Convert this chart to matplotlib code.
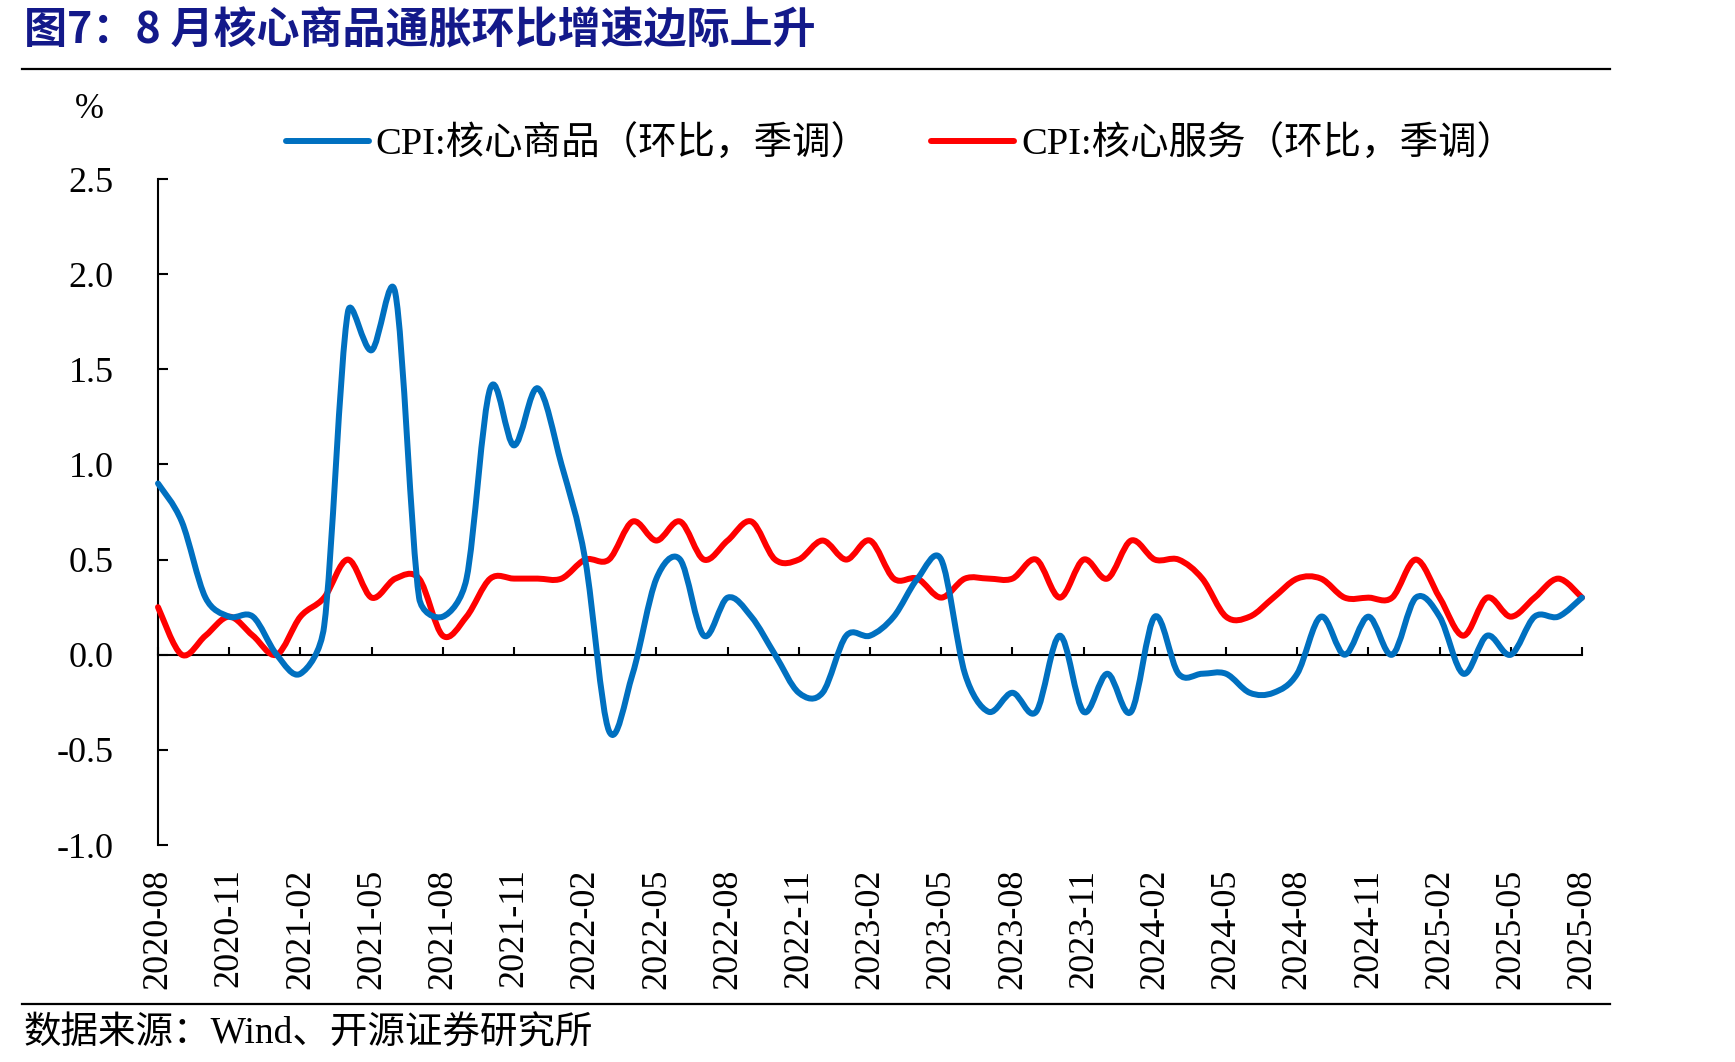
import matplotlib
matplotlib.use("Agg")
import numpy as np
import matplotlib.pyplot as plt
from matplotlib.path import Path
from matplotlib.patches import PathPatch
from matplotlib.lines import Line2D

# monthly data, 2020-08 .. 2025-08
months = [f"{2020 + (7 + k) // 12}-{(7 + k) % 12 + 1:02d}" for k in range(61)]

core_goods = [0.9, 0.7, 0.3, 0.2, 0.2, 0.0, -0.1, 0.15, 1.8, 1.6,
              1.9, 0.3, 0.2, 0.4, 1.4, 1.1, 1.4, 1.0, 0.5, -0.4,
              -0.1, 0.4, 0.5, 0.1, 0.3, 0.2, 0.0, -0.2, -0.2, 0.1,
              0.1, 0.2, 0.4, 0.5, -0.1, -0.3, -0.2, -0.3, 0.1, -0.3,
              -0.1, -0.3, 0.2, -0.1, -0.1, -0.1, -0.2, -0.2, -0.1, 0.2,
              0.0, 0.2, 0.0, 0.3, 0.2, -0.1, 0.1, 0.0, 0.2, 0.2,
              0.3]
core_services = [0.25, 0.0, 0.1, 0.2, 0.1, 0.0, 0.2, 0.3, 0.5, 0.3,
                 0.4, 0.4, 0.1, 0.2, 0.4, 0.4, 0.4, 0.4, 0.5, 0.5,
                 0.7, 0.6, 0.7, 0.5, 0.6, 0.7, 0.5, 0.5, 0.6, 0.5,
                 0.6, 0.4, 0.4, 0.3, 0.4, 0.4, 0.4, 0.5, 0.3, 0.5,
                 0.4, 0.6, 0.5, 0.5, 0.4, 0.2, 0.2, 0.3, 0.4, 0.4,
                 0.3, 0.3, 0.3, 0.5, 0.3, 0.1, 0.3, 0.2, 0.3, 0.4,
                 0.3]

labels = ["CPI:核心商品（环比，季调）", "CPI:核心服务（环比，季调）"]
colors = ["#0070C0", "#FF0000"]
tick_idx = list(range(0, 61, 3))

FONT = ["Liberation Serif", "Noto Sans CJK SC"]
plt.rcParams["font.family"] = FONT

YSCALE = 8.0  # screen aspect: pixels per 1.0 on y / pixels per month on x


def smooth_path(ys):
    # excel-like smoothed line: catmull-rom bezier, handle length capped at half the segment
    P = np.column_stack([np.arange(len(ys), dtype=float), np.array(ys) * YSCALE])
    n = len(P)
    span = [P[min(i + 1, n - 1)] - P[max(i - 1, 0)] for i in range(n)]
    verts = [P[0]]
    codes = [Path.MOVETO]
    for i in range(n - 1):
        L = np.hypot(*(P[i + 1] - P[i]))
        h = []
        for j in (i, i + 1):
            s = span[j]
            ns = np.hypot(*s)
            d = min(ns / 6, L / 2)
            h.append(s / ns * d)
        verts += [P[i] + h[0], P[i + 1] - h[1], P[i + 1]]
        codes += [Path.CURVE4] * 3
    verts = np.array(verts)
    verts[:, 1] /= YSCALE
    return Path(verts, codes)


fig = plt.figure(figsize=(17.35, 10.62), dpi=100)
ax = fig.add_axes([158 / 1735, 1 - 845 / 1062, (1582 - 158) / 1735, (845 - 179) / 1062])

for ys, c, z in [(core_services, colors[1], 3), (core_goods, colors[0], 4)]:
    ax.add_patch(PathPatch(smooth_path(ys), fill=False, edgecolor=c, lw=4.3,
                           capstyle="round", joinstyle="round", zorder=z, clip_on=False))

ax.set_xlim(0, 60)
ax.set_ylim(-1.0, 2.5)
yticks = [-1.0, -0.5, 0.0, 0.5, 1.0, 1.5, 2.0, 2.5]
ax.set_yticks(yticks)
ax.set_yticklabels([f"{v:.1f}" for v in yticks])

for s in ["top", "right"]:
    ax.spines[s].set_visible(False)
ax.spines["bottom"].set_position(("data", 0))
ax.spines["bottom"].set_linewidth(1.5)
ax.spines["left"].set_linewidth(1.5)

ax.set_xticks(tick_idx)
ax.tick_params(axis="x", direction="in", length=6, width=1.5, labelbottom=False)
ax.tick_params(axis="y", direction="in", length=7, width=1.5, pad=32, labelsize=26)

sec = ax.secondary_xaxis(0.0)
sec.set_xticks(tick_idx)
sec.set_xticklabels([months[i] for i in tick_idx], rotation=90, fontsize=26)
sec.tick_params(length=0, pad=17)
sec.spines["bottom"].set_visible(False)

handles = [Line2D([], [], color=c, lw=4.3, solid_capstyle="round") for c in colors]
fig.legend(handles, labels, loc="center left", bbox_to_anchor=(286 / 1735, 1 - 144 / 1062),
           ncol=2, frameon=False, fontsize=27.7, handlelength=2.15, handletextpad=0.18,
           columnspacing=1.6, borderpad=0, borderaxespad=0)

fig.text(89 / 1735, 1 - 110 / 1062, "%", fontsize=25, ha="center", va="center")

fig.text(24 / 1735, 1 - 30 / 1062, "图7：8 月核心商品通胀环比增速边际上升", fontsize=31,
         fontweight="bold", color="#13198A", ha="left", va="center",
         family=["Noto Sans CJK SC", "DejaVu Sans"])

fig.add_artist(Line2D([22 / 1735, 1610 / 1735], [1 - 69 / 1062] * 2, color="black", lw=1.6))
fig.add_artist(Line2D([22 / 1735, 1610 / 1735], [1 - 1004 / 1062] * 2, color="black", lw=1.6))

fig.text(24 / 1735, 1 - 1034 / 1062, "数据来源：Wind、开源证券研究所", fontsize=27,
         ha="left", va="center")

fig.savefig("out.png", dpi=100)
